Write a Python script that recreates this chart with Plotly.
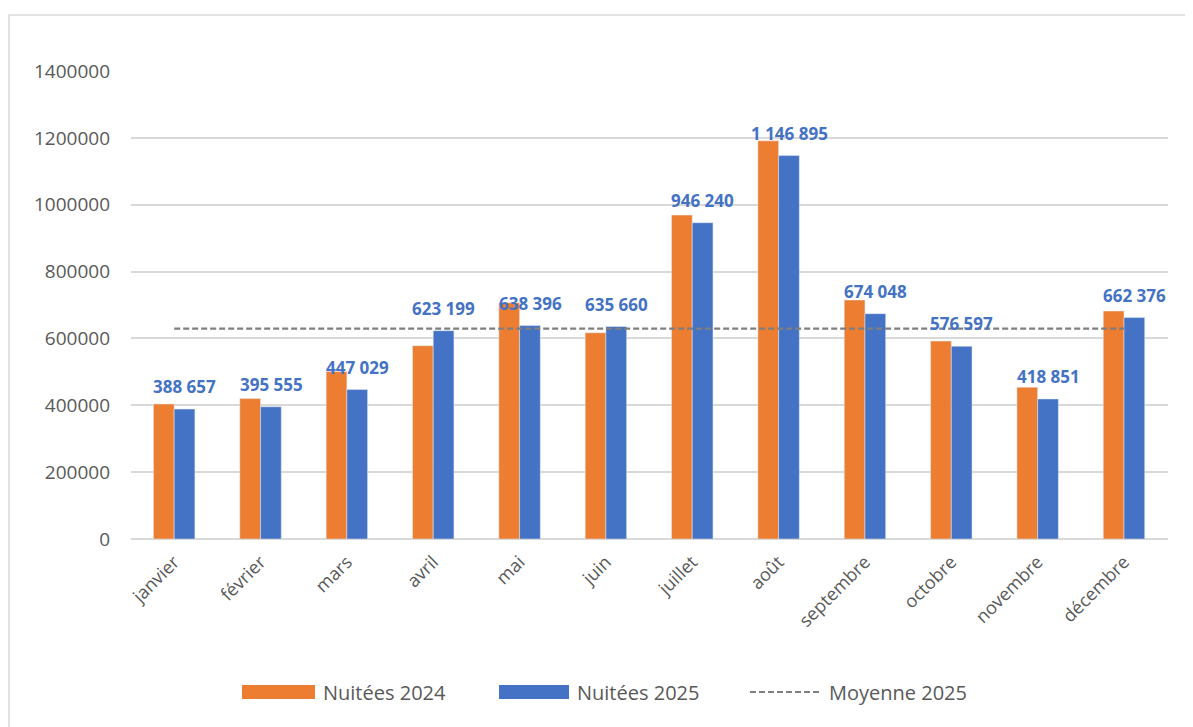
import plotly.graph_objects as go

mois = ["janvier", "février", "mars", "avril", "mai", "juin", "juillet",
        "août", "septembre", "octobre", "novembre", "décembre"]
nuitees_2024 = [404000, 420000, 501000, 578000, 707000, 617000, 969000,
                1191000, 715000, 592000, 454000, 682000]
nuitees_2025 = [388657, 395555, 447029, 623199, 638396, 635660, 946240,
                1146895, 674048, 576597, 418851, 662376]
moyenne_2025 = 629459
y_ticks = [0, 200000, 400000, 600000, 800000, 1000000, 1200000, 1400000]

ORANGE = "#ED7D31"
BLUE = "#4472C4"
GREY_LINE = "#7F7F7F"
TXT = "#595959"
FONT = "Open Sans"

# the page body adds an 8px margin, so the figure is drawn 8px smaller
OFF = 8
W, H = 1193 - OFF, 727 - OFF
L, R, T, B = 131 - OFF, 25, 71 - OFF, 188


def px_x(px):
    # page pixel -> paper coordinate
    return (px - OFF - L) / (W - L - R)


def px_y(py):
    return (H - B - (py - OFF)) / (H - T - B)


fig = go.Figure()
fig.add_trace(go.Bar(x=mois, y=nuitees_2024, name="Nuitées 2024",
                     marker_color=ORANGE, showlegend=False))
fig.add_trace(go.Bar(x=mois, y=nuitees_2025, name="Nuitées 2025",
                     marker_color=BLUE, showlegend=False))
fig.add_trace(go.Scatter(x=mois, y=[moyenne_2025] * len(mois), name="Moyenne 2025",
                         mode="lines", showlegend=False,
                         line=dict(color=GREY_LINE, width=2.2, dash="6px,3px")))

# data labels on the 2025 bars
annotations = []
for m, v in zip(mois, nuitees_2025):
    annotations.append(dict(
        x=m, y=v, xref="x", yref="y", text=f"{v:,}".replace(",", " "),
        showarrow=False, xshift=10.5, yshift=9, yanchor="bottom",
        font=dict(family=FONT, size=17, color=BLUE, weight="bold")))

# legend, drawn by hand to get the wide Excel swatches
shapes = [
    dict(type="rect", xref="paper", yref="paper",
         x0=px_x(9), x1=px_x(1210), y0=px_y(745), y1=px_y(15),
         line=dict(color="#D9D9D9", width=1.5), fillcolor="rgba(0,0,0,0)"),
    dict(type="rect", xref="paper", yref="paper",
         x0=px_x(242), x1=px_x(315), y0=px_y(699), y1=px_y(685),
         line=dict(width=0), fillcolor=ORANGE),
    dict(type="rect", xref="paper", yref="paper",
         x0=px_x(499), x1=px_x(569), y0=px_y(699), y1=px_y(685),
         line=dict(width=0), fillcolor=BLUE),
    dict(type="line", xref="paper", yref="paper",
         x0=px_x(750), x1=px_x(820), y0=px_y(692), y1=px_y(692),
         line=dict(color=GREY_LINE, width=2, dash="6px,3px")),
]
for label, px in [("Nuitées 2024", 321), ("Nuitées 2025", 575), ("Moyenne 2025", 827)]:
    annotations.append(dict(
        x=px_x(px), y=px_y(692), xref="paper", yref="paper", text=label,
        showarrow=False, xanchor="left", yanchor="middle",
        font=dict(family=FONT, size=20, color=TXT)))

fig.update_layout(
    width=W, height=H,
    margin=dict(l=L, r=R, t=T, b=B),
    paper_bgcolor="white", plot_bgcolor="white",
    barmode="group", bargap=0.52, bargroupgap=0,
    font=dict(family=FONT, color=TXT),
    annotations=annotations, shapes=shapes,
)
fig.update_xaxes(tickangle=-45, tickfont=dict(size=18, color=TXT),
                 showgrid=False, showline=False, ticks="",
                 ticklabelstandoff=8)
fig.update_yaxes(range=[0, 1400000], tickvals=y_ticks,
                 ticktext=[str(t) for t in y_ticks],
                 tickfont=dict(size=19, color=TXT),
                 showgrid=True, gridcolor="#D9D9D9", gridwidth=1.5,
                 zeroline=True, zerolinecolor="#D9D9D9", zerolinewidth=1.5,
                 ticks="", ticklabelstandoff=20)

fig.write_html("out.html")
